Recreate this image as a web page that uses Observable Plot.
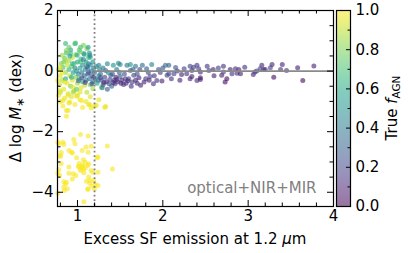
<!DOCTYPE html>
<html><head><meta charset="utf-8">
<script src="https://cdn.jsdelivr.net/npm/d3@7"></script>
<script src="https://cdn.jsdelivr.net/npm/@observablehq/plot@0.6"></script>
<style>
body{margin:0;background:#fff;}
#wrap{position:relative;width:408px;height:253px;font-family:"DejaVu Sans",sans-serif;}
#wrap svg{position:absolute;left:0;top:0;overflow:visible;}
</style></head><body><div id="wrap"></div>
<script>
// ---- data: [excess SF emission at 1.2um, delta log M*, true f_AGN] ----
const coreCluster = [
[0.78,0.05,0.9],[0.80,-0.15,0.95],[0.79,-0.45,0.92],[0.81,0.25,0.8],[0.82,-0.3,0.88],[0.83,0.12,0.7],[0.84,-0.6,0.95],[0.85,0.42,0.75],[0.86,-0.05,0.85],[0.86,-0.25,0.6],
[0.87,0.6,0.7],[0.88,0.2,0.9],[0.88,-0.4,0.97],[0.89,-0.75,0.93],[0.90,0.05,0.65],[0.90,0.35,0.85],[0.91,-0.15,0.9],[0.92,0.7,0.6],[0.92,-0.5,0.8],[0.93,0.15,0.75],
[0.94,-0.3,0.95],[0.94,0.45,0.9],[0.95,-0.05,0.55],[0.96,0.25,0.7],[0.96,-0.65,0.9],[0.97,0.9,0.65],[0.98,-0.2,0.8],[0.98,0.55,0.8],[0.99,0.0,0.5],[1.00,-0.4,0.85],
[1.00,0.3,0.6],[1.01,-0.1,0.45],[1.02,0.7,0.75],[1.02,-0.25,0.7],[1.03,0.1,0.55],[1.04,-0.55,0.95],[1.04,0.4,0.65],[1.05,-0.05,0.4],[1.06,0.2,0.5],[1.06,-0.35,0.6],
[1.07,0.85,0.8],[1.08,-0.15,0.35],[1.08,0.55,0.6],[1.09,0.05,0.45],[1.10,-0.3,0.4],[1.10,0.3,0.55],[1.11,-0.7,0.9],[1.12,0.1,0.4],[1.12,-0.1,0.3],[1.13,0.45,0.65],
[1.14,-0.25,0.35],[1.15,0.2,0.45],[1.15,-0.45,0.75],[1.16,0.0,0.38],[1.17,-0.15,0.3],[1.18,0.3,0.5],[1.18,-0.35,0.45],[1.19,0.1,0.4],[1.20,-0.05,0.35],[1.21,-0.25,0.5],
[1.22,0.15,0.45],[1.23,-0.4,0.55],
[0.78,-0.8,0.98],[0.80,-1.0,0.97],[0.83,-1.15,0.99],[0.85,-0.9,0.96],[0.87,-1.3,0.98],[0.90,-1.05,0.97],[0.93,-0.85,0.95],[0.97,-1.1,0.99],[1.00,-0.8,0.96],[1.03,-0.95,0.98],
[1.06,-1.2,0.99],[1.10,-1.0,0.97],[1.13,-1.1,0.98],[1.15,-0.85,0.95],[1.20,-1.15,0.97],[1.25,-0.95,0.96],[1.33,-1.17,0.97],[0.80,-0.7,0.9],[0.95,-0.7,0.85],
[0.86,0.91,0.65],[0.977,0.93,0.7],[0.90,0.79,0.75],[1.035,0.79,0.7],[1.11,0.74,0.8],[1.075,0.58,0.55],[0.92,0.58,0.7],[0.82,0.52,0.85],[0.996,0.52,0.6],[1.15,0.46,0.6],
[0.86,0.35,0.9],[1.035,0.30,0.7],[0.94,0.24,0.65],[1.13,0.24,0.5],[0.80,0.13,0.95],[1.25,0.19,0.45],[1.125,0.79,0.55],[0.87,0.68,0.8],[1.03,0.63,0.75],[1.145,0.52,0.45],
[0.77,-0.31,0.97],[0.85,-0.36,0.95],[0.95,-0.53,0.97],[1.085,-0.47,0.9],[1.18,-0.58,0.85],[1.28,-0.53,0.8],[0.89,-0.80,0.98],[0.79,-0.64,0.96],[1.03,-0.69,0.95],
[0.83,-0.97,0.98],[0.91,-1.02,0.97],[0.99,-0.83,0.96],[1.05,-0.97,0.99],[0.89,-1.30,0.98],[1.145,-1.11,0.97],[1.16,-1.22,0.98],[1.22,-1.13,0.96],[1.32,-1.19,0.97],[0.87,-1.49,0.99],
[1.05,-0.22,0.2],[1.09,-0.38,0.15],[1.13,-0.05,0.25],[1.17,-0.42,0.2],[1.01,-0.32,0.3],[1.11,0.15,0.3],[0.97,0.1,0.45],[1.07,0.38,0.4],[0.93,-0.2,0.6],[1.19,-0.2,0.15],
[0.99,-0.6,0.75],[0.84,0.3,0.8],[0.91,0.5,0.55],[1.14,0.6,0.5],[0.82,-0.05,0.98]
];
const lowCluster = [
[1.035,-2.09],[1.125,-2.14],[0.957,-2.26],[0.77,-2.35],[0.84,-2.42],[1.35,-2.47],[1.10,-2.51],[0.90,-2.62],[1.055,-2.62],[0.81,-2.69],
[1.125,-2.68],[0.94,-2.70],[0.80,-2.82],[0.99,-2.86],[1.07,-2.93],[1.23,-2.86],[0.81,-3.06],[1.09,-3.01],[1.13,-3.06],[0.90,-3.17],
[1.02,-3.17],[1.055,-3.15],[1.41,-3.23],[0.78,-3.26],[1.035,-3.28],[1.24,-3.34],[0.90,-3.37],[1.075,-3.36],[1.16,-3.28],[0.98,-3.45],
[0.79,-3.45],[1.13,-3.50],[0.94,-3.56],[0.84,-3.65],[1.19,-3.61],[1.105,-3.64],[0.86,-3.72],[1.21,-3.75],[1.145,-3.70],[0.84,-3.83],
[1.17,-3.80],[0.88,-3.88],[1.12,-3.90],[0.77,-4.03],[1.075,-4.31],[1.20,-3.89],
[1.02,-3.05],[1.06,-3.10],[1.09,-3.20],[1.04,-3.22],[1.12,-3.12],[1.07,-3.24],[1.01,-3.14],
[1.16,-2.48],[0.785,-2.40],[0.83,-2.35],[0.80,-2.79],[0.93,-2.68],[0.97,-2.40],[1.24,-2.84],[0.77,-3.38],[0.95,-3.39],[1.18,-3.34],
[1.145,-3.61],[0.87,-3.67],[0.845,-3.94],[1.125,-3.89],[1.24,-3.78]
];
const lowClusterFagn = 0.99;
const band = [
[1.35,0.24,0.45],[1.42,0.19,0.5],[1.50,0.22,0.45],[1.58,0.19,0.4],[1.68,0.16,0.4],[1.76,0.19,0.35],[1.87,0.22,0.45],[2.03,0.19,0.35],[1.33,0.02,0.35],[1.46,0.05,0.4],
[1.62,0.02,0.3],[1.81,0.08,0.3],[1.95,0.05,0.25],[1.39,-0.14,0.3],[1.50,-0.18,0.25],[1.56,-0.25,0.15],[1.66,-0.14,0.2],[1.72,-0.22,0.1],[1.85,-0.18,0.2],[1.93,-0.31,0.15],
[1.99,-0.33,0.1],[1.44,-0.42,0.2],[1.54,-0.44,0.15],[1.64,-0.36,0.2],[1.78,-0.36,0.1],[1.89,-0.42,0.15],[1.74,-0.47,0.1],[1.37,-0.42,0.25],[2.05,-0.14,0.2],[1.48,0.26,0.45],
[1.62,0.22,0.5],[1.30,0.10,0.4],[1.27,-0.10,0.35],[1.28,-0.30,0.3],[1.30,-0.45,0.25],[1.32,-0.20,0.2],[1.34,-0.35,0.15],[1.36,-0.05,0.45],[1.38,-0.28,0.2],[1.40,-0.50,0.3],
[1.41,-0.10,0.25],[1.43,-0.30,0.15],[1.45,-0.20,0.1],[1.47,-0.35,0.2],[1.49,-0.05,0.3],[1.52,-0.30,0.1],[1.55,-0.10,0.25],[1.57,-0.40,0.12],[1.60,-0.25,0.2],[1.63,-0.50,0.15],
[1.65,0.05,0.3],[1.68,-0.30,0.1],[1.70,-0.10,0.25],[1.73,0.05,0.2],[1.80,-0.25,0.15],[1.83,-0.05,0.2],[1.90,-0.15,0.15],[1.97,-0.05,0.2],[2.00,0.10,0.25],[1.25,-0.15,0.4],
[1.26,0.05,0.45],[1.24,-0.30,0.35],[1.29,-0.55,0.4],[1.35,-0.60,0.3],
[1.31,-0.38,0.1],[1.42,-0.38,0.1],[1.51,-0.40,0.08],[1.59,-0.32,0.1],[1.70,-0.40,0.12],[1.84,-0.30,0.08],[1.27,-0.22,0.2],[1.46,-0.28,0.12]
];
const tail = [
[2.07,0.19,0.3],[2.17,0.0,0.15],[2.13,-0.09,0.2],[2.22,-0.11,0.1],[2.32,0.16,0.2],[2.34,0.02,0.1],[2.40,0.19,0.15],[2.42,0.08,0.2],[2.44,-0.03,0.1],[2.52,0.16,0.15],
[2.54,0.02,0.2],[2.32,-0.25,0.1],[2.40,-0.31,0.15],[2.44,-0.22,0.05],[2.71,0.16,0.15],[2.69,-0.14,0.1],[2.73,-0.36,0.05],[2.81,-0.09,0.15],[2.07,-0.09,0.2],[2.28,-0.09,0.15],
[2.36,0.13,0.2],[2.59,0.05,0.1],[2.71,-0.03,0.2],[2.79,0.05,0.1],[2.85,0.08,0.15],[2.75,-0.25,0.05],[2.87,-0.07,0.15],[2.34,-0.18,0.1],[2.44,-0.28,0.08],[2.10,-0.25,0.15],
[2.15,0.12,0.25],[2.20,-0.30,0.1],[2.25,0.08,0.2],[2.60,-0.15,0.1],[2.65,0.10,0.2],
[2.89,0.05,0.1],[2.96,0.13,0.15],[2.91,-0.09,0.1],[3.06,-0.11,0.1],[3.10,0.0,0.2],[3.16,0.19,0.1],[3.18,0.05,0.15],[3.26,0.11,0.2],[3.28,0.22,0.1],[3.30,-0.20,0.05],
[3.38,0.05,0.15],[3.40,0.22,0.1],[3.45,0.02,0.15],[3.58,0.11,0.1],[3.64,-0.31,0.05],[3.77,0.17,0.1],[3.08,-0.03,0.15],[3.14,0.08,0.2],[3.20,0.05,0.1]
];
const xTicks = [1, 2, 3, 4];
const xMinorTicks = [0.8, 1.2, 1.4, 1.6, 1.8, 2.2, 2.4, 2.6, 2.8, 3.2, 3.4, 3.6, 3.8];
const yTicks = [-4, -2, 0, 2];
const yMinorTicks = [-3.5, -3, -2.5, -1.5, -1, -0.5, 0.5, 1, 1.5];
const cbTicks = [0, 0.2, 0.4, 0.6, 0.8, 1.0];
const cbMinorTicks = [0.1, 0.3, 0.5, 0.7, 0.9];
const xDomain = [0.766, 4];
const yDomain = [-4.47, 2];
const agnCut = 1.2;
const annotation = "optical+NIR+MIR";

// ---- layout ----
const W = 408, H = 253;
const mL = 57, mR = 75, mT = 10, mB = 47;
const iw = W - mL - mR, ih = H - mT - mB;
const font = "DejaVu Sans";
const minus = d => d < 0 ? "\u2212" + (-d) : String(d);

const pts = [
  ...coreCluster,
  ...lowCluster.map(([x, y]) => [x, y, lowClusterFagn]),
  ...band,
  ...tail
].map(([x, y, f]) => ({x, y, f}));

const tickStyle = {stroke: "black", strokeWidth: 1};
const main = Plot.plot({
  width: W, height: H,
  marginLeft: mL, marginRight: mR, marginTop: mT, marginBottom: mB,
  style: {fontFamily: font, fontSize: "15px", background: "transparent", color: "black"},
  x: {domain: xDomain, axis: null},
  y: {domain: yDomain, axis: null},
  color: {type: "linear", scheme: "viridis", domain: [0, 1]},
  marks: [
    Plot.dot(pts, {x: "x", y: "y", fill: "f", r: 2.5, fillOpacity: 0.62, stroke: "none"}),
    Plot.ruleY([0], {x1: agnCut, x2: xDomain[1], stroke: "#8a8a8a", strokeWidth: 1.6}),
    Plot.ruleX([agnCut], {stroke: "#808080", strokeWidth: 1.8, strokeDasharray: "1.8,2.6"}),
    // inward ticks on all four sides
    Plot.ruleX(xTicks, {x: d => d, insetTop: ih - 6, ...tickStyle}),
    Plot.ruleX(xTicks, {x: d => d, insetBottom: ih - 6, ...tickStyle}),
    Plot.ruleX(xMinorTicks, {x: d => d, insetTop: ih - 3.5, ...tickStyle}),
    Plot.ruleX(xMinorTicks, {x: d => d, insetBottom: ih - 3.5, ...tickStyle}),
    Plot.ruleY(yTicks, {y: d => d, insetRight: iw - 6, ...tickStyle}),
    Plot.ruleY(yTicks, {y: d => d, insetLeft: iw - 6, ...tickStyle}),
    Plot.ruleY(yMinorTicks, {y: d => d, insetRight: iw - 3.5, ...tickStyle}),
    Plot.ruleY(yMinorTicks, {y: d => d, insetLeft: iw - 3.5, ...tickStyle}),
    Plot.axisX(xTicks, {tickSize: 0, tickPadding: 4, tickFormat: minus, fontSize: 15, label: null}),
    Plot.axisY(yTicks, {tickSize: 0, tickPadding: 4, tickFormat: minus, fontSize: 15, label: null}),
    Plot.text([annotation], {frameAnchor: "bottom-right", dx: -17, dy: -14, fill: "#808080", fontSize: 15, textAnchor: "end", lineAnchor: "bottom"}),
    Plot.frame({stroke: "black", strokeWidth: 1.2})
  ]
});

// colour bar
const cbL = 336, cbR = W - 350;
const cbSteps = d3.range(0, 1, 0.005);
const fade = t => d3.interpolateRgb("white", d3.interpolateViridis(t))(0.55);
const cb = Plot.plot({
  width: W, height: H,
  marginLeft: cbL, marginRight: cbR, marginTop: mT, marginBottom: mB,
  style: {fontFamily: font, fontSize: "15px", background: "transparent", color: "black"},
  x: {domain: [0, 1], axis: null},
  y: {domain: [0, 1], axis: null},
  color: {type: "linear", domain: [0, 1], interpolate: fade},
  marks: [
    Plot.rect(cbSteps, {x1: 0, x2: 1, y1: d => d, y2: d => Math.min(1, d + 0.0065), fill: d => d + 0.0025, shapeRendering: "crispEdges"}),
    Plot.ruleY(cbTicks, {y: d => d, insetLeft: 14 - 4, stroke: "black"}),
    Plot.ruleY(cbMinorTicks, {y: d => d, insetLeft: 14 - 2.5, stroke: "black"}),
    Plot.axisY(cbTicks, {anchor: "right", tickSize: 0, tickPadding: 5, tickFormat: d => d.toFixed(1), fontSize: 15, label: null}),
    Plot.frame({stroke: "black", strokeWidth: 1.2})
  ]
});

const wrap = document.getElementById("wrap");
wrap.appendChild(main);
wrap.appendChild(cb);

// axis titles
const s = d3.select(main);
const xl = s.append("text").attr("x", mL + iw / 2).attr("y", 244).attr("text-anchor", "middle")
  .attr("font-family", font).attr("font-size", 15).attr("fill", "black");
xl.append("tspan").text("Excess SF emission at 1.2 ");
xl.append("tspan").attr("font-style", "italic").text("\u03bc");
xl.append("tspan").text("m");

const yl = s.append("text").attr("transform", `translate(21,${mT + ih / 2}) rotate(-90)`).attr("text-anchor", "middle")
  .attr("font-family", font).attr("font-size", 15).attr("fill", "black");
yl.append("tspan").text("\u0394 log ");
yl.append("tspan").attr("font-style", "italic").text("M");
yl.append("tspan").attr("font-size", 11).attr("dy", 3).text("\u2217");
yl.append("tspan").attr("dy", -3).text(" (dex)");

const c = d3.select(cb);
const cl = c.append("text").attr("transform", `translate(397,${mT + ih / 2}) rotate(-90)`).attr("text-anchor", "middle")
  .attr("font-family", font).attr("font-size", 15).attr("fill", "black");
cl.append("tspan").text("True ");
cl.append("tspan").attr("font-style", "italic").text("f");
cl.append("tspan").attr("font-size", 10.5).attr("dy", 3).text("AGN");
</script></body></html>
